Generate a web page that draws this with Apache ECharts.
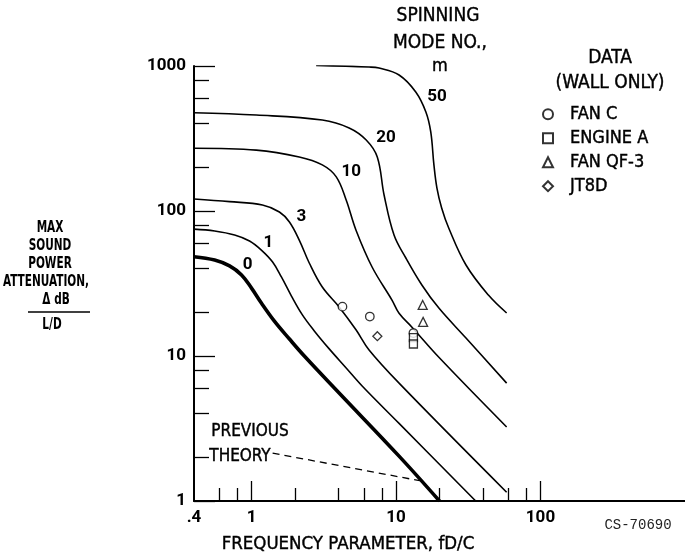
<!DOCTYPE html>
<html><head><meta charset="utf-8">
<script src="https://cdn.jsdelivr.net/npm/echarts@6/dist/echarts.min.js"></script>
<style>html,body{margin:0;padding:0;background:#fff}#c{width:685px;height:557px}</style>
</head><body><div id="c"></div>
<script>
// ---- tick values / labels ----
const xTickLabels = [0.4, 1, 10, 100];
const xMajorTicks = [1, 10, 100];
const xMinorTicks = [0.6, 0.8, 2, 4, 6, 8, 20, 40, 60, 80];
const yTickLabels = [1, 10, 100, 1000];
const yMajorTicks = [1, 10, 100, 1000];
const yMinorTicks = [2, 4, 6, 8, 20, 40, 60, 80, 200, 400, 600, 800];

// ---- curves: [fD/C, max attenuation dB per L/D] ----
const mode0 = [[0.4,48.4],[0.556,45.9],[0.705,41.8],[0.853,36.2],[1.0,29.4],[1.17,23.2],[1.44,17.4],[1.83,13.1],[2.32,10],[4.04,5.56],[10.5,2.04],[20,1.0]];
const mode1 = [[0.4,75],[0.556,72.8],[0.764,68.3],[0.969,62.1],[1.17,53.8],[1.40,44.5],[1.61,35.1],[1.89,25.9],[2.25,19.2],[2.72,14.9],[3.45,11.2],[4.52,8.27],[5.83,6.21],[10.5,3.43],[35.6,1.0]];
const mode3 = [[0.4,121],[0.705,116],[1.19,110],[1.56,98.4],[1.83,84],[2.14,63],[2.51,43.8],[3.09,29.9],[4.04,21.8],[5.30,15.1],[6.51,11.0],[10.5,6.5],[58.3,1.15]];
const mode10 = [[0.4,271],[1.08,263],[2.14,236],[3.09,208],[3.86,172],[4.52,119],[5.28,74],[6.83,41.1],[9.38,24.3],[10.5,19.7],[12.9,15.8],[19.8,9.8],[58.3,3.24]];
const mode20 = [[0.4,476],[1.08,459],[3.09,424],[4.74,374],[6.22,309],[7.42,236],[8.27,129],[9.69,68.3],[11.7,47.4],[15.1,30.9],[19.8,21.4],[30.5,13.3],[58.3,6.5]];
const mode50 = [[2.8,1010],[6.51,984],[7.63,968],[10.5,867],[13.7,662],[16.1,482],[17.4,351],[18.3,208],[19.2,144],[20.7,105],[23.2,76],[30.5,42.4],[43.6,26.3],[58.3,19.8]];
const previousTheory = [[1.40,2.14],[14.6,1.38]];

// ---- measured data (wall only) ----
const fanC = [[4.26,21.9],[6.59,18.7],[13.2,14.4]];
const engineA = [[13.2,13.4],[13.2,12.1]];
const fanQF3 = [[15.3,22.5],[15.4,17.2]];
const jt8d = [[7.43,13.7]];

const curveLabels = [
  {t:'50', x:19.2, y:611},
  {t:'20', x:8.53, y:319},
  {t:'10', x:4.9, y:186},
  {t:'3', x:2.21, y:91},
  {t:'1', x:1.31, y:60},
  {t:'0', x:0.94, y:42.4}
];

const NUM = "Roboto,'DejaVu Sans Condensed',sans-serif";
const TXT = "'DejaVu Sans Condensed',sans-serif";

function curve(name, data, w) {
  return { name, type:'line', data, smooth:0.38, symbol:'none', silent:true,
    lineStyle:{color:'#000', width:w}, xAxisIndex:0, yAxisIndex:0, z:3 };
}
function pts(name, data, sym, size) {
  return { name, type:'scatter', data, symbol:sym, symbolSize:size,
    itemStyle:{color:'#fff', borderColor:'#000', borderWidth:1.3}, xAxisIndex:0, yAxisIndex:0, z:5 };
}

const chart = echarts.init(document.getElementById('c'), null, {renderer:'canvas'});
const axisCommon = {type:'log', logBase:10, splitLine:{show:false}, minorTick:{show:false}};

const option = {
  animation:false,
  backgroundColor:'#fff',
  grid: {left:194, top:66, width:493, height:435},
  legend: {
    orient:'vertical', left:537, top:100, itemWidth:10, itemHeight:10, itemGap:5.6,
    data:['FAN C','ENGINE A','FAN QF-3','JT8D'],
    textStyle:{fontFamily:TXT, fontSize:18, color:'#000', padding:[0,0,0,12], textBorderColor:'#000', textBorderWidth:0.4},
    selectedMode:false
  },
  xAxis: [
    Object.assign({}, axisCommon, {
      min:0.4, max:1000, position:'bottom',
      axisLine:{show:true, lineStyle:{color:'#000', width:2}},
      axisTick:{show:true, inside:true, length:20, customValues:xMajorTicks, lineStyle:{color:'#000', width:1.3}},
      axisLabel:{show:true, customValues:xTickLabels, margin:8, fontFamily:NUM, fontWeight:'bold', fontSize:17, color:'#000',
        formatter: v => (v < 1 ? String(v).replace(/^0/, '') : String(v))}
    }),
    Object.assign({}, axisCommon, {
      min:0.4, max:1000, position:'bottom', gridIndex:0,
      axisLine:{show:false},
      axisTick:{show:true, inside:true, length:13, customValues:xMinorTicks, lineStyle:{color:'#000', width:1.3}},
      axisLabel:{show:false}
    })
  ],
  yAxis: [
    Object.assign({}, axisCommon, {
      min:1, max:1000, position:'left',
      axisLine:{show:true, lineStyle:{color:'#000', width:2}},
      axisTick:{show:true, inside:true, length:21, customValues:yMajorTicks, lineStyle:{color:'#000', width:1.3}},
      axisLabel:{show:true, customValues:yTickLabels, margin:8, fontFamily:NUM, fontWeight:'bold', fontSize:17, color:'#000',
        formatter: v => String(v)}
    }),
    Object.assign({}, axisCommon, {
      min:1, max:1000, position:'left', gridIndex:0,
      axisLine:{show:false},
      axisTick:{show:true, inside:true, length:15, customValues:yMinorTicks, lineStyle:{color:'#000', width:1.3}},
      axisLabel:{show:false}
    })
  ],
  series: [
    curve('m0', mode0, 3.6),
    curve('m1', mode1, 1.6),
    curve('m3', mode3, 1.6),
    curve('m10', mode10, 1.6),
    curve('m20', mode20, 1.6),
    curve('m50', mode50, 1.6),
    { name:'prev', type:'line', data:previousTheory, symbol:'none', silent:true,
      lineStyle:{color:'#000', width:1.3, type:[7,5]}, xAxisIndex:0, yAxisIndex:0 },
    pts('FAN C', fanC, 'circle', 8.5),
    pts('ENGINE A', engineA, 'rect', 8),
    pts('FAN QF-3', fanQF3, 'triangle', 9),
    pts('JT8D', jt8d, 'diamond', 9)
  ]
};
chart.setOption(option);

// text annotations
const g = [];
function txt(s, x, y, size, style, el) {
  g.push(Object.assign({type:'text', x, y, style:Object.assign({text:s, fontFamily:TXT, fontSize:size, fill:'#000',
    stroke:'#000', lineWidth:0.4, align:'center', verticalAlign:'middle'}, style||{})}, el||{}));
}
txt('SPINNING', 438, 16, 19);
txt('MODE NO.,', 440, 43, 19);
txt('m', 440, 66, 18);
txt('DATA', 610, 58, 19);
txt('(WALL ONLY)', 610, 83, 19);
curveLabels.forEach(c => {
  const p = chart.convertToPixel({xAxisIndex:0, yAxisIndex:0}, [c.x, c.y]);
  txt(c.t, p[0], p[1], 17, {fontFamily:NUM, fontWeight:'bold', lineWidth:0});
});
const yT = {fontWeight:'bold', lineWidth:0};
const yS = {scaleX:0.78};
txt('MAX', 50, 228, 15, yT, yS);
txt('SOUND', 50, 246, 15, yT, yS);
txt('POWER', 50, 264, 15, yT, yS);
txt('ATTENUATION,', 46, 282, 15, yT, yS);
txt('\u0394 dB', 56, 300, 15, yT, yS);
g.push({type:'line', shape:{x1:28, y1:312, x2:90, y2:312}, style:{stroke:'#000', lineWidth:1.5}});
txt('L/D', 52, 325, 15, yT, yS);
txt('PREVIOUS', 250, 432, 17);
txt('THEORY', 240, 457, 17);
txt('FREQUENCY PARAMETER, fD/C', 348, 544, 18.5);
txt('CS-70690', 638, 525, 14, {fontFamily:"'Liberation Mono','DejaVu Sans Mono',monospace", fill:'#222', lineWidth:0});
chart.setOption({graphic: g});
</script>
</body></html>
